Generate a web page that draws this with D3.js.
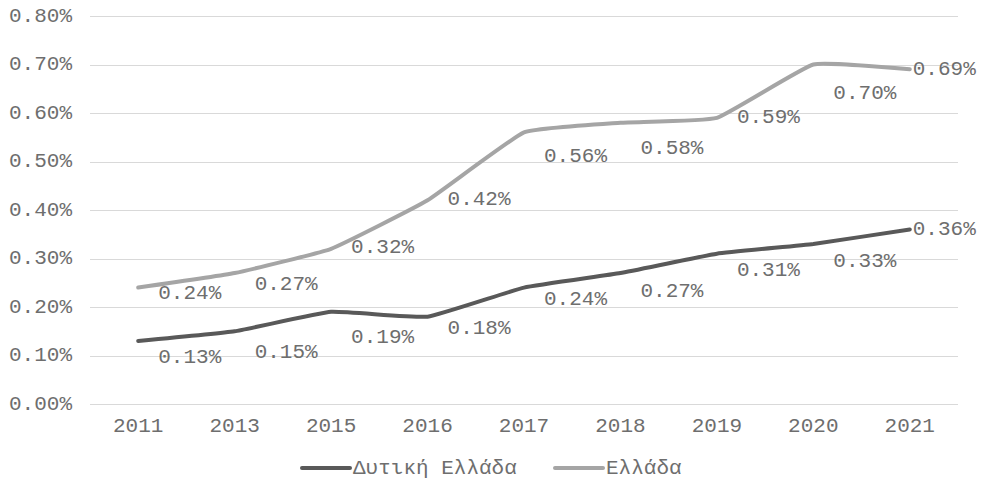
<!DOCTYPE html>
<html>
<head>
<meta charset="utf-8">
<script src="https://cdn.jsdelivr.net/npm/d3@7"></script>
<style>
  html, body { margin: 0; padding: 0; background: #ffffff; }
  svg text { font-family: "Liberation Mono", "Courier New", monospace; fill: #6e6e6e; }
</style>
</head>
<body>
<svg id="chart" width="984" height="486"></svg>
<script>
// ---- data ----
const years = ["2011", "2013", "2015", "2016", "2017", "2018", "2019", "2020", "2021"];
const westernGreece = [0.13, 0.15, 0.19, 0.18, 0.24, 0.27, 0.31, 0.33, 0.36];
const greece = [0.24, 0.27, 0.32, 0.42, 0.56, 0.58, 0.59, 0.70, 0.69];
const seriesNames = ["Δυτική Ελλάδα", "Ελλάδα"];
const yTicks = [0, 0.1, 0.2, 0.3, 0.4, 0.5, 0.6, 0.7, 0.8];

// label placement offsets (layout, in px)
const labelDyWestern = [17, 21, 26, 12, 12, 18, 17, 18, 0];
const labelDyGreece = [6, 11, -1, -1, 24, 26, 0, 29, 0];

const W = 984, H = 486;
const margin = { left: 90, right: 26, top: 16, bottom: 82 };
const svg = d3.select("#chart");

const x = d3.scaleBand().domain(years).range([margin.left, W - margin.right]);
const y = d3.scaleLinear().domain([0, 0.8]).range([H - margin.bottom, margin.top]);
const cx = d => x(d) + x.bandwidth() / 2;
const fmt = v => v.toFixed(2) + "%";

// gridlines
svg.append("g").selectAll("line").data(yTicks).join("line")
  .attr("x1", margin.left).attr("x2", W - margin.right)
  .attr("y1", d => Math.round(y(d)) + 0.5).attr("y2", d => Math.round(y(d)) + 0.5)
  .attr("stroke", "#d9d9d9").attr("stroke-width", 1);

// y axis labels
svg.append("g").selectAll("text").data(yTicks).join("text")
  .attr("x", 72).attr("y", d => y(d))
  .attr("text-anchor", "end").attr("dominant-baseline", "central")
  .attr("font-size", 21).text(d => fmt(d));

// x axis labels
svg.append("g").selectAll("text").data(years).join("text")
  .attr("x", d => cx(d)).attr("y", H - margin.bottom + 22)
  .attr("text-anchor", "middle").attr("dominant-baseline", "central")
  .attr("font-size", 21).text(d => d);

const series = [
  { name: seriesNames[0], values: westernGreece, color: "#595959", dy: labelDyWestern },
  { name: seriesNames[1], values: greece, color: "#a5a5a5", dy: labelDyGreece }
];

const line = d3.line()
  .x((d, i) => cx(years[i]))
  .y(d => y(d))
  .curve(d3.curveCardinal.tension(0.65));

series.forEach(s => {
  svg.append("path")
    .attr("d", line(s.values))
    .attr("fill", "none")
    .attr("stroke", s.color)
    .attr("stroke-width", 4)
    .attr("stroke-linecap", "round")
    .attr("stroke-linejoin", "round");
});

series.forEach(s => {
  svg.append("g").selectAll("text").data(s.values).join("text")
    .attr("x", (d, i) => cx(years[i]) + (i === years.length - 1 ? 3 : 20))
    .attr("y", (d, i) => y(d) + s.dy[i])
    .attr("dominant-baseline", "central")
    .attr("font-size", 21)
    .text(d => fmt(d));
});

// legend
const legendY = 468;
const legendItems = [
  { x: 302, s: series[0] },
  { x: 555, s: series[1] }
];
legendItems.forEach(li => {
  svg.append("line")
    .attr("x1", li.x).attr("x2", li.x + 48)
    .attr("y1", legendY).attr("y2", legendY)
    .attr("stroke", li.s.color).attr("stroke-width", 4).attr("stroke-linecap", "round");
  svg.append("text")
    .attr("x", li.x + 51).attr("y", legendY)
    .attr("dominant-baseline", "central")
    .attr("font-size", 21)
    .text(li.s.name);
});
</script>
</body>
</html>
